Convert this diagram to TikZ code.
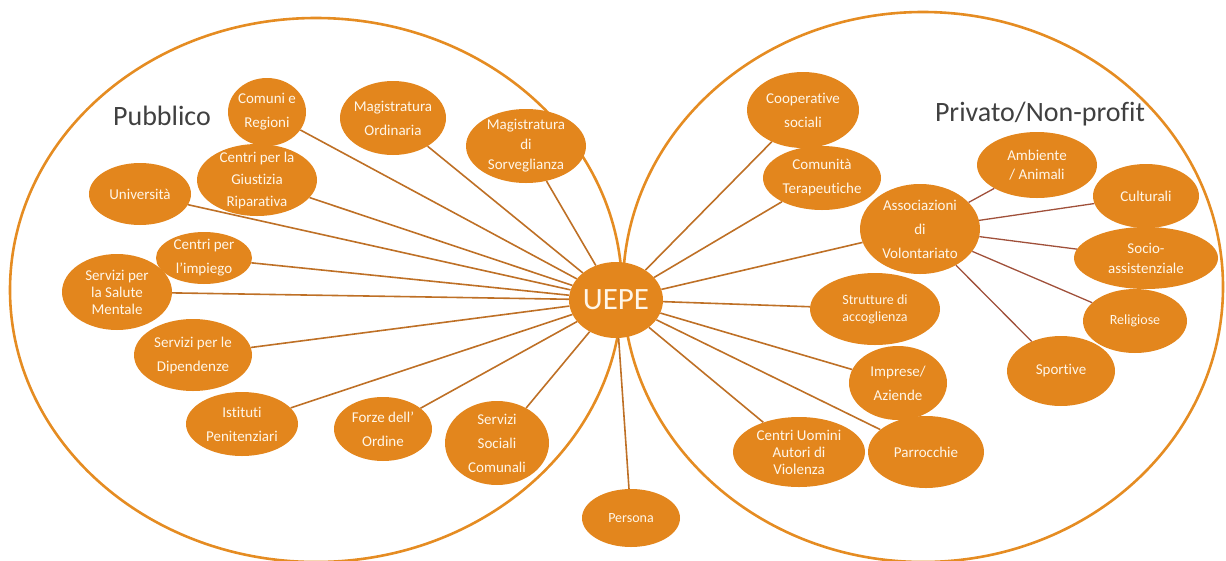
\documentclass[tikz,border=0pt]{standalone}
\usepackage{fontspec}
\setmainfont{Carlito}[Ligatures=NoCommon]
\usetikzlibrary{shapes.geometric}
\definecolor{arancio}{HTML}{E3861D}
\definecolor{bordo}{HTML}{E58C22}
\definecolor{filo}{HTML}{BE7026}
\definecolor{filorosso}{HTML}{A0503A}
\definecolor{titolo}{HTML}{404040}
\definecolor{crema}{HTML}{FFF6E8}
\tikzset{
  ente/.style={ellipse, fill=arancio, text=crema, inner sep=-14pt, align=center,
    font=\fontsize{15}{18}\selectfont},
  rado/.style={font=\fontsize{15}{24}\selectfont},
  medio/.style={font=\fontsize{15}{20}\selectfont},
  fitto/.style={font=\fontsize{15}{17}\selectfont},
  piccolo/.style={font=\fontsize{14}{17}\selectfont},
  link/.style={filo, line width=1.6pt},
  sublink/.style={filorosso, line width=1.3pt},
  area/.style={bordo, line width=2.6pt},
  titolo/.style={text=titolo, font=\fontsize{28}{32}\selectfont}
}
\newcommand{\ente}[5]{% name, position, width, height, options
  \node[ente, minimum width=#3pt, minimum height=#4pt, #5] (#1) at #2}

\begin{document}
\begin{tikzpicture}[x=1pt, y=-1pt]
\useasboundingbox (0,0) rectangle (1226,560);
% the two areas
\draw[area] (316,290) ellipse [x radius=306, y radius=272];
\draw[area] (923,287) ellipse [x radius=300, y radius=275];
\node[titolo] (pubblico) at (162,116) {Pubblico};
\node[titolo] (privato) at (1040,114) {Privato/Non-profit};
% centre
\node[ente, minimum width=94pt, minimum height=76pt, font=\fontsize{31}{34}\selectfont] (uepe) at (616,300) {UEPE};
% public side
\ente{comuni}{(267,112)}{78}{68}{rado} {Comuni e\\Regioni};
\ente{magord}{(393,118)}{106}{74}{rado} {Magistratura\\Ordinaria};
\ente{magsorv}{(526,146)}{120}{74}{medio} {Magistratura\\di\\Sorveglianza};
\ente{giustizia}{(257,180)}{120}{72}{font=\fontsize{15}{22}\selectfont} {Centri per la\\Giustizia\\Riparativa};
\ente{universita}{(140,194)}{102}{62}{} {Università};
\ente{impiego}{(204,258)}{96}{52}{rado} {Centri per\\l’impiego};
\ente{salute}{(117,292)}{110}{76}{fitto} {Servizi per\\la Salute\\Mentale};
\ente{dipendenze}{(193,355)}{118}{72}{rado} {Servizi per le\\Dipendenze};
\ente{penitenziari}{(242,424)}{112}{64}{rado} {Istituti\\Penitenziari};
\ente{forze}{(383,429)}{98}{64}{rado} {Forze dell’\\Ordine};
\ente{sociali}{(497,443)}{104}{84}{rado} {Servizi\\Sociali\\Comunali};
\ente{persona}{(631,518)}{98}{58}{piccolo} {Persona};
% private side
\ente{cooperative}{(803,110)}{112}{76}{rado} {Cooperative\\sociali};
\ente{terapeutiche}{(822,178)}{118}{64}{rado} {Comunità\\Terapeutiche};
\ente{strutture}{(875,309)}{130}{72}{piccolo} {Strutture di\\accoglienza};
\ente{imprese}{(898,383)}{98}{74}{rado} {Imprese/\\Aziende};
\ente{uomini}{(799,452)}{132}{70}{fitto} {Centri Uomini\\Autori di\\Violenza};
\ente{parrocchie}{(926,452)}{116}{72}{} {Parrocchie};
\ente{volontariato}{(920,229)}{120}{90}{rado} {Associazioni\\di\\Volontariato};
% associations
\ente{ambiente}{(1037,165)}{120}{66}{font=\fontsize{15}{19}\selectfont} {Ambiente\\/ Animali};
\ente{culturali}{(1146,196)}{106}{64}{} {Culturali};
\ente{socio}{(1146,258)}{144}{62}{font=\fontsize{15}{20}\selectfont} {Socio-\\assistenziale};
\ente{religiose}{(1135,321)}{104}{64}{piccolo} {Religiose};
\ente{sportive}{(1061,371)}{108}{70}{} {Sportive};
% connectors
\foreach \n in {comuni,magord,magsorv,giustizia,universita,impiego,salute,
  dipendenze,penitenziari,forze,sociali,persona,cooperative,terapeutiche,
  volontariato,strutture,imprese,uomini,parrocchie}
  \draw[link] (uepe) -- (\n);
\foreach \n in {ambiente,culturali,socio,religiose,sportive}
  \draw[sublink] (volontariato) -- (\n);
\end{tikzpicture}
\end{document}
